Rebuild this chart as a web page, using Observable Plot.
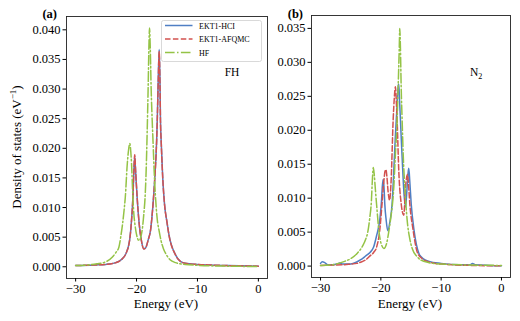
<!DOCTYPE html>
<html>
<head>
<meta charset="utf-8">
<script src="https://cdn.jsdelivr.net/npm/d3@7"></script>
<script src="https://cdn.jsdelivr.net/npm/@observablehq/plot@0.6"></script>
<style>
  html, body { margin: 0; padding: 0; background: #fff; width: 520px; height: 321px; overflow: hidden; }
  #wrap { position: relative; width: 520px; height: 321px; }
  #wrap svg, #wrap svg text, #wrap svg g { font-family: 'Liberation Serif', 'DejaVu Serif', serif !important; }
  #pa { position: absolute; left: 0; top: 0; }
  #pb { position: absolute; left: 270px; top: 0; }
  #legend { position: absolute; left: 161px; top: 20px; }
</style>
</head>
<body>
<div id="wrap"><div id="pa"></div><div id="pb"></div><svg id="legend" width="102" height="43"></svg></div>
<script>
// ---------- data (energy in eV, density of states in 1/eV) ----------
const seriesNames = ["EKT1-HCI", "EKT1-AFQMC", "HF"];
const seriesColors = ["#4f7fc4", "#d2514f", "#94c346"];
const xTicks = [-30, -20, -10, 0];
const yTicksA = [0, 0.005, 0.01, 0.015, 0.02, 0.025, 0.03, 0.035, 0.04];
const yTicksB = [0, 0.005, 0.01, 0.015, 0.02, 0.025, 0.03, 0.035];

// Panel (a) FH
const fhHCI = [[-30,0.0002],[-27,0.0003],[-25,0.0004],[-23.4,0.0007],[-22.5,0.0012],[-21.8,0.0021],[-21.15,0.0044],[-20.87,0.0072],[-20.6,0.0117],[-20.45,0.0158],[-20.3,0.0186],[-20.15,0.0160],[-19.9,0.0117],[-19.56,0.0072],[-19.2,0.0044],[-18.8,0.0030],[-18.5,0.0032],[-18.1,0.0045],[-17.7,0.0062],[-17.3,0.0105],[-17.0,0.0150],[-16.7,0.0213],[-16.6,0.0247],[-16.45,0.0312],[-16.28,0.0367],[-16.15,0.0312],[-16.07,0.0247],[-15.96,0.0213],[-15.7,0.0150],[-15.4,0.0105],[-15.0,0.0075],[-14.7,0.0055],[-13.6,0.0020],[-12.8,0.0009],[-12,0.0006],[-10,0.0004],[-8,0.0003],[-5,0.0002],[0,0.0001]];
const fhAFQMC = [[-30,0.0002],[-27,0.0003],[-25,0.0004],[-23.4,0.0007],[-22.5,0.0012],[-21.8,0.0021],[-21.15,0.0044],[-20.87,0.0072],[-20.6,0.0117],[-20.45,0.0160],[-20.3,0.0189],[-20.15,0.0162],[-19.9,0.0117],[-19.56,0.0072],[-19.2,0.0044],[-18.8,0.0030],[-18.5,0.0032],[-18.1,0.0045],[-17.7,0.0062],[-17.3,0.0105],[-17.0,0.0150],[-16.7,0.0213],[-16.6,0.0246],[-16.45,0.0308],[-16.28,0.0363],[-16.15,0.0308],[-16.07,0.0246],[-15.96,0.0213],[-15.7,0.0150],[-15.4,0.0105],[-15.0,0.0075],[-14.7,0.0055],[-13.6,0.0020],[-12.8,0.0009],[-12,0.0006],[-10,0.0004],[-8,0.0003],[-5,0.0002],[0,0.0001]];
const fhHF = [[-30,0.0002],[-28,0.0003],[-26.5,0.0005],[-25.4,0.0007],[-24,0.0016],[-23.4,0.0024],[-22.9,0.0033],[-22.6,0.0050],[-22.3,0.0072],[-22.05,0.0095],[-21.85,0.0117],[-21.52,0.0174],[-21.3,0.0198],[-21.1,0.0208],[-20.95,0.0195],[-20.82,0.0174],[-20.6,0.0117],[-20.45,0.0090],[-20.27,0.0072],[-19.9,0.0050],[-19.6,0.0044],[-19.3,0.0050],[-19.0,0.0068],[-18.8,0.0090],[-18.6,0.0117],[-18.4,0.0170],[-18.25,0.0230],[-18.1,0.0300],[-17.95,0.0380],[-17.87,0.0403],[-17.75,0.0370],[-17.6,0.0300],[-17.43,0.0247],[-17.3,0.0213],[-17.1,0.0160],[-16.9,0.0120],[-16.6,0.0080],[-16.3,0.0061],[-16.0,0.0045],[-15.6,0.0031],[-15.2,0.0022],[-14.5,0.0012],[-13.6,0.0007],[-12,0.0004],[-10,0.00025],[-5,0.0001],[0,0.00005]];

// Panel (b) N2
const n2HCI = [[-30,0.0004],[-29.7,0.00064],[-29.3,0.0005],[-28.8,0.0002],[-28,0.0002],[-27.3,0.0003],[-26.8,0.00045],[-26.3,0.0003],[-25,0.0003],[-24,0.0006],[-23.4,0.0009],[-22.5,0.0015],[-21.8,0.0020],[-21.2,0.0028],[-20.7,0.0045],[-20.18,0.0068],[-19.9,0.0095],[-19.75,0.0118],[-19.6,0.0128],[-19.45,0.0112],[-19.35,0.0092],[-19.12,0.0068],[-18.85,0.0052],[-18.5,0.0065],[-18.13,0.0092],[-17.85,0.0141],[-17.6,0.0190],[-17.35,0.0230],[-17.13,0.0264],[-17.03,0.0268],[-16.9,0.0245],[-16.75,0.0215],[-16.55,0.0175],[-16.37,0.0141],[-16.15,0.0105],[-15.9,0.0087],[-15.64,0.0117],[-15.45,0.0140],[-15.37,0.0144],[-15.2,0.0125],[-14.97,0.0092],[-14.5,0.0053],[-13.7,0.0019],[-13,0.0011],[-12,0.0007],[-10,0.0004],[-7,0.0002],[-5.2,0.0002],[-4.8,0.0004],[-4.3,0.0002],[-2,0.0001],[0,0.00005]];
const n2AFQMC = [[-30,0.0001],[-28,0.00015],[-26,0.0002],[-25,0.0003],[-24,0.0004],[-23,0.0007],[-22.55,0.0009],[-21.8,0.0015],[-21.2,0.0020],[-20.7,0.0028],[-20.18,0.0053],[-19.8,0.0092],[-19.5,0.0125],[-19.3,0.0140],[-19.15,0.0142],[-19.0,0.0132],[-18.8,0.0110],[-18.55,0.0097],[-18.3,0.0125],[-17.96,0.0215],[-17.75,0.0250],[-17.58,0.0264],[-17.45,0.0245],[-17.3,0.0215],[-17.03,0.0141],[-16.63,0.0092],[-16.2,0.0075],[-15.9,0.0117],[-15.7,0.0132],[-15.6,0.0135],[-15.45,0.0125],[-15.2,0.0092],[-14.65,0.0053],[-13.9,0.0019],[-13,0.0010],[-12,0.0006],[-10,0.0003],[-5,0.0001],[0,0.00005]];
const n2HF = [[-30,0.0001],[-28,0.0002],[-27,0.0004],[-26,0.0007],[-25,0.0011],[-23.9,0.0019],[-23,0.0030],[-22.5,0.0040],[-22.17,0.0050],[-21.85,0.0070],[-21.56,0.0097],[-21.4,0.0128],[-21.25,0.0145],[-21.1,0.0135],[-20.9,0.0112],[-20.7,0.0090],[-20.3,0.0050],[-19.95,0.0033],[-19.5,0.0026],[-19.0,0.0035],[-18.7,0.0050],[-18.4,0.0068],[-17.85,0.0117],[-17.58,0.0166],[-17.3,0.0215],[-17.13,0.0264],[-16.95,0.0320],[-16.86,0.0350],[-16.75,0.0320],[-16.63,0.0264],[-16.47,0.0215],[-16.3,0.0166],[-16.03,0.0117],[-15.64,0.0068],[-15.2,0.0040],[-14.8,0.0026],[-14,0.0014],[-13.4,0.0009],[-12,0.0005],[-10,0.0003],[-5,0.00015],[0,0.0001]];

// ---------- drawing ----------
const FONT = "'Liberation Serif', 'DejaVu Serif', serif";
const dashes = [null, "5.5,2.4", "9.6,2.4,1.5,2.4"];
const fmtX = d => d < 0 ? "\u2212" + (-d) : String(d);

function lines(sets) {
  return sets.map((data, i) => Plot.line(data, {
    x: d => d[0], y: d => d[1], stroke: seriesColors[i], strokeWidth: 1.5,
    strokeDasharray: dashes[i], curve: "monotone-x"
  }));
}

function panel({width, mL, mR, mT, mB, yDomain, yTicks, sets}) {
  return Plot.plot({
    width, height: 321,
    marginLeft: mL, marginRight: mR, marginTop: mT, marginBottom: mB,
    style: {fontFamily: FONT, fontSize: "12.5px", background: "white", color: "black"},
    x: {domain: [-31.5, 1.5]},
    y: {domain: yDomain},
    marks: [
      ...lines(sets),
      Plot.frame({stroke: "#222", strokeWidth: 0.9}),
      Plot.axisX({ticks: xTicks, tickFormat: fmtX, tickSize: 3.5, tickPadding: 2.5, label: null, fontVariant: "normal"}),
      Plot.axisY({ticks: yTicks, tickFormat: d => d.toFixed(3), tickSize: 3.5, tickPadding: 2.5, label: null, fontVariant: "normal"})
    ]
  });
}

const pa = panel({width: 270, mL: 66, mR: 3, mT: 16, mB: 43, yDomain: [-0.00198, 0.04225], yTicks: yTicksA, sets: [fhHCI, fhAFQMC, fhHF]});
const pb = panel({width: 250, mL: 41, mR: 10, mT: 15, mB: 44, yDomain: [-0.00168, 0.0369], yTicks: yTicksB, sets: [n2HCI, n2AFQMC, n2HF]});
document.getElementById("pa").appendChild(pa);
document.getElementById("pb").appendChild(pb);

function addText(svg, x, y, parts, opts = {}) {
  const t = d3.select(svg).append("text")
    .attr("x", x).attr("y", y)
    .attr("font-family", FONT)
    .attr("font-size", opts.size || 12.5)
    .attr("font-weight", opts.weight || "normal")
    .attr("text-anchor", opts.anchor || "start")
    .attr("fill", "black");
  if (opts.rotate) t.attr("transform", `rotate(${opts.rotate},${x},${y})`);
  parts.forEach(p => {
    const s = t.append("tspan").text(p.t);
    if (p.sup) s.attr("baseline-shift", "super").attr("font-size", "70%");
    if (p.sub) s.attr("dy", "2.5").attr("font-size", "70%");
  });
  return t;
}

// panel labels, titles, axis labels
addText(pa, 57, 18, [{t: "(a)"}], {weight: "bold", anchor: "end", size: 12.5});
addText(pb, 33, 18, [{t: "(b)"}], {weight: "bold", anchor: "end", size: 12.5});
addText(pa, 166, 308, [{t: "Energy (eV)"}], {anchor: "middle", size: 13});
addText(pb, 140, 308, [{t: "Energy (eV)"}], {anchor: "middle", size: 13});
addText(pa, 21, 147, [{t: "Density of states (eV"}, {t: "\u22121", sup: true}, {t: ")"}], {anchor: "middle", size: 13, rotate: -90});
addText(pa, 232, 76, [{t: "FH"}], {anchor: "middle", size: 11.5});
addText(pb, 200, 76, [{t: "N"}, {t: "2", sub: true}], {anchor: "start", size: 11.5});

// legend
const lg = d3.select("#legend");
lg.append("rect").attr("x", 0.5).attr("y", 0.5).attr("width", 100).attr("height", 41)
  .attr("rx", 2).attr("fill", "white").attr("fill-opacity", 0.85).attr("stroke", "#cfcfcf").attr("stroke-width", 0.8);
seriesNames.forEach((name, i) => {
  const cy = 5.5 + i * 13.5;
  lg.append("line").attr("x1", 4).attr("x2", 31.5).attr("y1", cy).attr("y2", cy)
    .attr("stroke", seriesColors[i]).attr("stroke-width", 1.5)
    .attr("stroke-dasharray", dashes[i]);
  lg.append("text").attr("x", 38).attr("y", cy + 3).attr("font-family", FONT)
    .attr("font-size", 8).attr("fill", "black").text(name);
});
</script>
</body>
</html>
